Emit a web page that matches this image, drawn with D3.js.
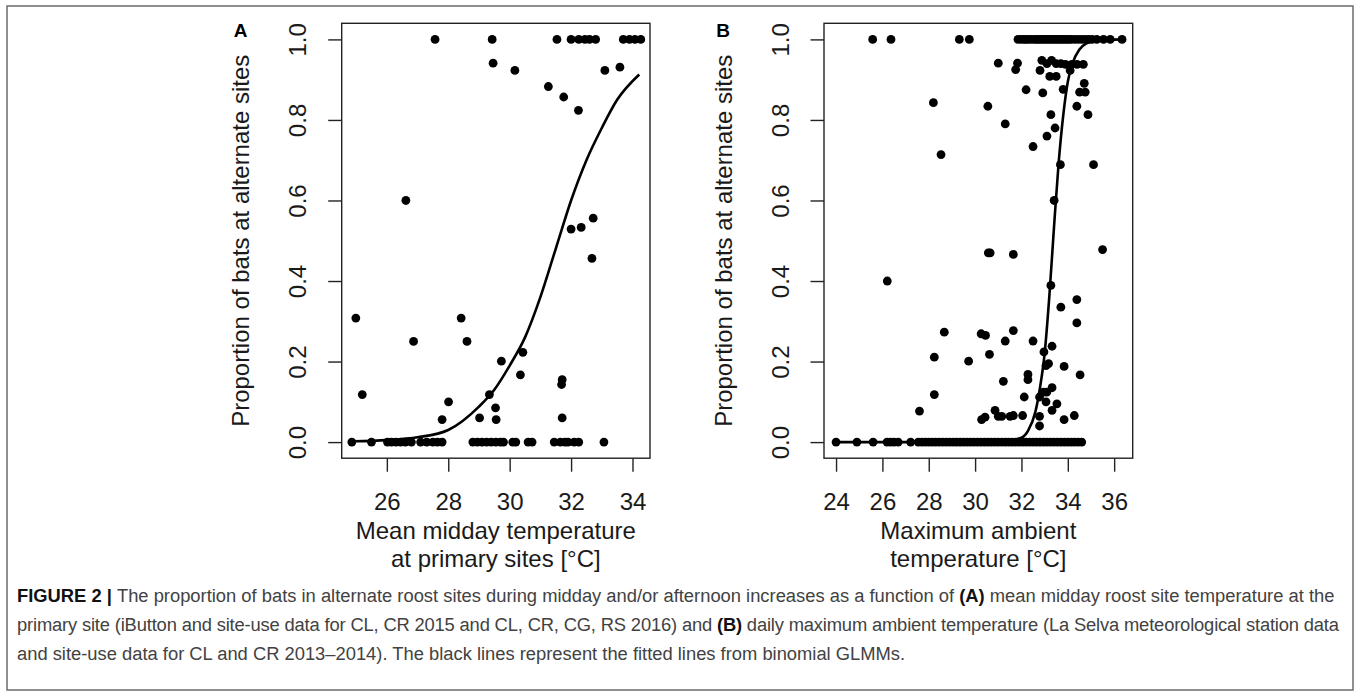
<!DOCTYPE html>
<head>
    <meta charset="utf-8">
    <title>Figure 2</title>
    <script src="https://d3js.org/d3.v7.min.js"></script>
</head>

<body>
<svg id="fig" width="1357" height="691"></svg>
</body>

<script>

    // ---- panel A: mean midday temperature at primary sites ----
    var tempA = [
        24.86, 25.5, 26.02, 26.15, 26.3, 26.45, 26.6, 26.8, 27.1, 27.3, 27.5, 27.65, 27.8,
        28.8, 28.95, 29.1, 29.25, 29.4, 29.55, 29.7, 29.8, 30.1, 30.2, 30.6, 30.73,
        31.45, 31.65, 31.8, 31.9, 32.1, 32.25, 33.07,
        24.99, 25.2, 26.62, 26.87, 27.57, 27.8, 28.01, 28.42, 28.61, 29.02, 29.34, 29.43,
        29.46, 29.54, 29.56, 29.73, 30.17, 30.35, 30.43, 31.26, 31.54, 31.69, 31.71, 31.71,
        31.76, 32.0, 32.0, 32.24, 32.25, 32.45, 32.6, 32.8, 32.33, 32.68, 32.72, 33.1,
        33.59, 33.7, 33.9, 34.08, 34.27
    ]
    var propA = [
        0, 0, 0, 0, 0, 0, 0, 0, 0, 0, 0, 0, 0,
        0, 0, 0, 0, 0, 0, 0, 0, 0, 0, 0, 0,
        0, 0, 0, 0, 0, 0, 0,
        0.308, 0.118, 0.60, 0.25, 1.0, 0.056, 0.10, 0.308, 0.25, 0.06, 0.118, 1.0,
        0.941, 0.085, 0.056, 0.201, 0.923, 0.167, 0.223, 0.883, 1.0, 0.143, 0.155, 0.06,
        0.857, 1.0, 0.529, 0.824, 1.0, 1.0, 1.0, 1.0, 0.533, 0.456, 0.556, 0.923,
        0.931, 1.0, 1.0, 1.0, 1.0
    ]
    // fitted GLMM line
    var fitTempA = [24.9, 26, 27, 28, 29, 29.5, 30, 30.5, 31, 31.5, 32, 32.5, 33, 33.5, 34.22]
    var fitPropA = [0.002, 0.005, 0.012, 0.03, 0.088, 0.13, 0.19, 0.26, 0.36, 0.48, 0.6, 0.7, 0.78, 0.85, 0.913]

    // ---- panel B: maximum ambient temperature ----
    var tempB = [
        // zero row
        24.0, 24.9, 25.6, 26.2, 26.35, 26.5, 26.68, 27.22, 27.55, 27.7, 27.85, 28.0, 28.15, 28.3,
        28.45, 28.6, 28.75, 28.9, 29.05, 29.2, 29.35, 29.5, 29.65, 29.8, 29.95, 30.1, 30.25, 30.4,
        30.55, 30.7, 30.85, 31.0, 31.15, 31.3, 31.45, 31.6, 31.75, 31.9, 32.05, 32.2, 32.35, 32.5,
        32.65, 32.8, 32.95, 33.1, 33.25, 33.4, 33.55, 33.7, 33.85, 34.0, 34.15, 34.3, 34.45, 34.6,
        // one row
        25.58, 26.37, 29.32, 29.75, 31.85, 31.98, 32.1, 32.2, 32.3, 32.42, 32.55, 32.65, 32.75,
        32.85, 32.95, 33.05, 33.15, 33.25, 33.35, 33.45, 33.55, 33.65, 33.75, 33.85, 33.95, 34.05,
        34.15, 34.3, 34.45, 34.6, 34.75, 34.9, 35.05, 35.25, 35.54, 35.83, 36.34,
        // in between
        26.21, 27.6, 28.2, 28.24, 28.24, 28.53, 28.67, 29.72, 30.26, 30.45, 30.28, 30.43, 30.55,
        30.57, 30.65, 30.62, 30.86, 31.0, 31.15, 31.0, 31.22, 31.3, 31.3, 31.51, 31.65, 31.65,
        31.65, 31.75, 31.83, 32.05, 32.12, 32.2, 32.28, 32.28, 32.5, 32.5, 32.78, 32.78, 32.78,
        32.8, 32.88, 32.92, 32.97, 32.95, 33.06, 33.09, 33.1, 33.06, 33.17, 33.1, 33.22, 33.27,
        33.27, 33.32, 33.32, 33.32, 33.3, 33.41, 33.45, 33.5, 33.5, 33.53, 33.68, 33.7, 33.7,
        33.8, 33.84, 33.84, 33.9, 34.1, 34.17, 34.28, 34.39, 34.39, 34.39, 34.4, 34.51, 34.53,
        34.67, 34.71, 34.75, 34.87, 35.11, 35.5
    ]
    var propB = [
        0, 0, 0, 0, 0, 0, 0, 0, 0, 0, 0, 0, 0, 0,
        0, 0, 0, 0, 0, 0, 0, 0, 0, 0, 0, 0, 0, 0,
        0, 0, 0, 0, 0, 0, 0, 0, 0, 0, 0, 0, 0, 0,
        0, 0, 0, 0, 0, 0, 0, 0, 0, 0, 0, 0, 0, 0,
        1, 1, 1, 1, 1, 1, 1, 1, 1, 1, 1, 1, 1,
        1, 1, 1, 1, 1, 1, 1, 1, 1, 1, 1, 1, 1,
        1, 1, 1, 1, 1, 1, 1, 1, 1, 1, 1,
        0.40, 0.077, 0.843, 0.211, 0.118, 0.714, 0.273, 0.201, 0.269, 0.265, 0.056, 0.062, 0.834,
        0.470, 0.470, 0.218, 0.079, 0.064, 0.064, 0.941, 0.151, 0.79, 0.251, 0.064, 0.066, 0.466,
        0.277, 0.925, 0.941, 0.066, 0.112, 0.875, 0.168, 0.155, 0.734, 0.251, 0.112, 0.064, 0.040,
        0.923, 0.948, 0.867, 0.224, 0.124, 0.10, 0.124, 0.76, 0.19, 0.195, 0.94, 0.908, 0.813,
        0.389, 0.238, 0.135, 0.079, 0.948, 0.60, 0.78, 0.908, 0.94, 0.095, 0.689, 0.335, 0.94,
        0.876, 0.188, 0.056, 0.938, 0.923, 0.938, 0.066, 0.834, 0.354, 0.296, 0.938, 0.869, 0.167,
        0.938, 0.891, 0.869, 0.813, 0.689, 0.478
    ]
    var fitTempB = [24, 26, 28, 30, 31, 31.5, 32, 32.3, 32.6, 32.8, 33, 33.2, 33.4, 33.6, 33.8, 34, 34.2, 34.5, 34.8, 35.2, 36.34]
    var fitPropB = [0, 0, 0, 0.001, 0.002, 0.004, 0.011, 0.03, 0.075, 0.135, 0.22, 0.36, 0.53, 0.69, 0.81, 0.895, 0.94, 0.975, 0.99, 0.997, 1.0]

    // axis ticks
    var ticksA = [26, 28, 30, 32, 34]
    var ticksB = [24, 26, 28, 30, 32, 34, 36]
    var ticksY = [0, 0.2, 0.4, 0.6, 0.8, 1.0]

    var xLabelA = ["Mean midday temperature", "at primary sites [°C]"]
    var xLabelB = ["Maximum ambient", "temperature [°C]"]
    var yLabel = "Proportion of bats at alternate sites"

    var svg = d3.select("#fig")
    var axisFont = "'Liberation Sans', Arial, sans-serif"

    // outer frame of the figure
    svg.append("rect")
        .attr("x", 7).attr("y", 6).attr("width", 1346).attr("height", 684)
        .attr("fill", "none").attr("stroke", "#6b6b6b").attr("stroke-width", 1.5)

    var y = d3.scaleLinear().domain([-0.04, 1.04]).range([458.2, 23.3])

    function drawPanel(opts) {
        var x = d3.scaleLinear().domain(opts.domain).range(opts.range)
        var left = opts.range[0], right = opts.range[1]
        var g = svg.append("g")

        // x axis
        var gx = g.append("g")
            .attr("transform", "translate(0," + y.range()[0] + ")")
            .call(d3.axisBottom(x).tickValues(opts.ticks).tickSize(13.5).tickPadding(21).tickFormat(d3.format("d")))
        // y axis, labels parallel to the axis like R does
        var gy = g.append("g")
            .attr("transform", "translate(" + left + ",0)")
            .call(d3.axisLeft(y).tickValues(ticksY).tickSize(13.5).tickFormat(d3.format(".1f")))
        gy.selectAll(".tick text")
            .attr("x", null).attr("dy", null)
            .attr("text-anchor", "middle")
            .attr("transform", "translate(-35.5,0) rotate(-90)")

        ;[gx, gy].forEach(function(a) {
            a.select(".domain").remove()
            a.selectAll(".tick line").attr("stroke", "#222").attr("stroke-width", 1.4)
            a.selectAll(".tick text").attr("fill", "#1a1a1a")
                .style("font-family", axisFont).style("font-size", "24px")
        })

        // plot box
        g.append("rect")
            .attr("x", left).attr("y", y.range()[1])
            .attr("width", right - left).attr("height", y.range()[0] - y.range()[1])
            .attr("fill", "none").attr("stroke", "#222").attr("stroke-width", 1.4)

        // points
        g.selectAll(".pt")
            .data(opts.xs)
            .enter().append("circle")
            .attr("class", "pt")
            .attr("cx", function(d) { return x(d) })
            .attr("cy", function(d, i) { return y(opts.ys[i]) })
            .attr("r", 4.4)
            .attr("fill", "#000")

        // fitted line
        var line = d3.line()
            .x(function(d) { return x(d) })
            .y(function(d, i) { return y(opts.fitY[i]) })
            .curve(d3.curveMonotoneX)
        g.append("path")
            .attr("d", line(opts.fitX))
            .attr("fill", "none").attr("stroke", "#000").attr("stroke-width", 2.6)

        // axis titles
        var cx = (left + right) / 2
        g.append("text")
            .attr("x", cx).attr("y", 539)
            .attr("text-anchor", "middle")
            .style("font-family", axisFont).style("font-size", "24px").attr("fill", "#1a1a1a")
            .text(opts.xLabel[0])
        g.append("text")
            .attr("x", cx).attr("y", 567)
            .attr("text-anchor", "middle")
            .style("font-family", axisFont).style("font-size", "24px").attr("fill", "#1a1a1a")
            .text(opts.xLabel[1])
        g.append("text")
            .attr("transform", "translate(" + (left - 92.5) + "," + ((y.range()[0] + y.range()[1]) / 2) + ") rotate(-90)")
            .attr("text-anchor", "middle")
            .style("font-family", axisFont).style("font-size", "24px").attr("fill", "#1a1a1a")
            .text(yLabel)

        // panel letter
        g.append("text")
            .attr("x", left - 101).attr("y", 37)
            .attr("text-anchor", "middle")
            .style("font-family", axisFont).style("font-size", "19px").style("font-weight", "bold")
            .text(opts.letter)
    }

    drawPanel({ domain: [24.53, 34.57], range: [341.7, 650], ticks: ticksA,
        xs: tempA, ys: propA, fitX: fitTempA, fitY: fitPropA, xLabel: xLabelA, letter: "A" })
    drawPanel({ domain: [23.48, 36.8], range: [824, 1132.7], ticks: ticksB,
        xs: tempB, ys: propB, fitX: fitTempB, fitY: fitPropB, xLabel: xLabelB, letter: "B" })

    // caption
    var capLines = [
        [["FIGURE 2 | ", true], ["The proportion of bats in alternate roost sites during midday and/or afternoon increases as a function of ", false],
            ["(A)", true], [" mean midday roost site temperature at the", false]],
        [["primary site (iButton and site-use data for CL, CR 2015 and CL, CR, CG, RS 2016) and ", false], ["(B)", true],
            [" daily maximum ambient temperature (La Selva meteorological station data", false]],
        [["and site-use data for CL and CR 2013–2014). The black lines represent the fitted lines from binomial GLMMs.", false]]
    ]
    var capY = [602, 631, 660]
    var capText = capLines.map(function(parts, i) {
        var t = svg.append("text")
            .attr("x", 17).attr("y", capY[i])
            .style("font-family", "'Liberation Sans', Arial, sans-serif")
            .style("font-size", "16px")
            .attr("fill", "#424242")
        parts.forEach(function(p) {
            t.append("tspan").text(p[0]).style("font-weight", p[1] ? "bold" : "normal")
                .attr("fill", p[1] ? "#111" : null)
        })
        return t
    })
    // scale the caption font so that the first line spans the frame width
    var w0 = capText[0].node().getComputedTextLength()
    var fs = 16 * 1318 / w0
    capText.forEach(function(t) { t.style("font-size", fs + "px") })
    capText[1].attr("textLength", 1322).attr("lengthAdjust", "spacing")

</script>

<style>
    html, body {
        margin: 0;
        background: #fff;
    }
    svg {
        display: block;
    }
</style>

</html>
